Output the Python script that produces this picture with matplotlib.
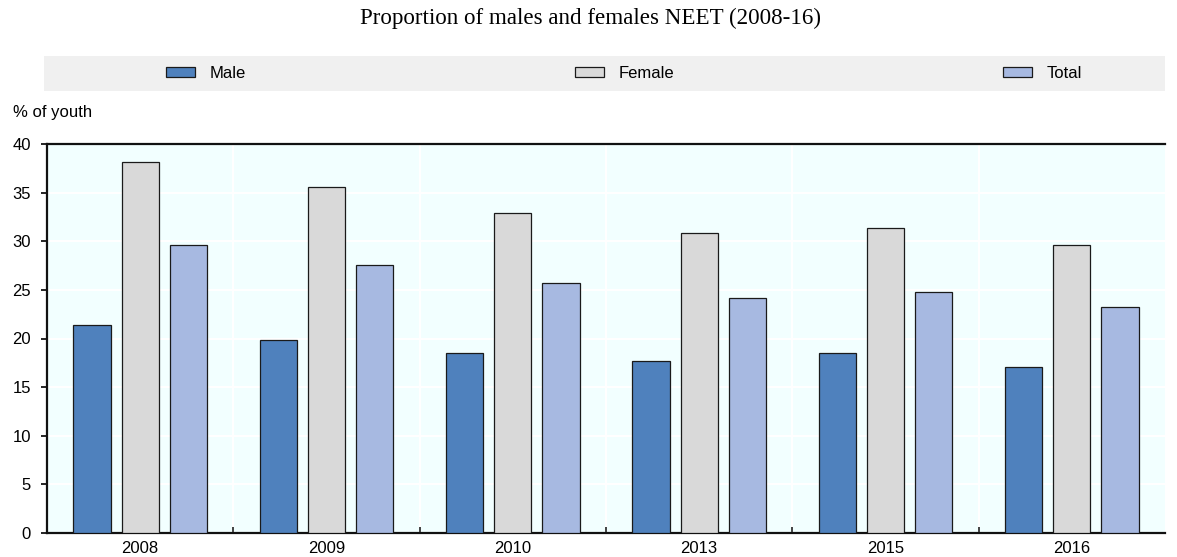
import matplotlib
matplotlib.use("Agg")
import matplotlib.pyplot as plt
from matplotlib.patches import Rectangle
from matplotlib.ticker import MultipleLocator, FixedLocator
import numpy as np

years = ["2008", "2009", "2010", "2013", "2015", "2016"]
male = [21.4, 19.8, 18.5, 17.7, 18.5, 17.1]
female = [38.1, 35.6, 32.9, 30.8, 31.4, 29.6]
total = [29.6, 27.6, 25.7, 24.2, 24.8, 23.2]
series_names = ["Male", "Female", "Total"]
colors = ["#4F81BD", "#D9D9D9", "#A7B9E1"]

FONT = ["Liberation Sans", "DejaVu Sans"]
plt.rcParams["font.family"] = FONT
FS = 12

W, H = 1177, 557
fig = plt.figure(figsize=(W / 100, H / 100), dpi=100)
ax = fig.add_axes([47 / W, 1 - 533 / H, (1165 - 47) / W, (533 - 144) / H])
ax.set_facecolor("#F2FFFF")

x = np.arange(len(years))
bw = 0.2
off = 0.258
handles = []
for i, (vals, name, c) in enumerate(zip([male, female, total], series_names, colors)):
    b = ax.bar(x + (i - 1) * off, vals, width=bw, color=c, edgecolor="#1a1a1a",
               linewidth=0.9, label=name, zorder=3)
    handles.append(b)

ax.set_xlim(-0.5, len(years) - 0.5)
ax.set_ylim(0, 40)
ax.yaxis.set_major_locator(MultipleLocator(5))
ax.set_xticks(x)
ax.set_xticklabels(years)
ax.xaxis.set_minor_locator(FixedLocator(np.arange(0.5, len(years) - 0.5, 1)))
ax.tick_params(axis="x", which="major", length=0, pad=6, labelsize=FS)
ax.tick_params(axis="x", which="minor", length=4.5, direction="in", width=1.2, color="#222222")
ax.tick_params(axis="y", which="major", length=4.5, direction="out", width=1.2, pad=7, labelsize=FS)
ax.grid(axis="y", color="white", linewidth=1.5, zorder=0)
ax.grid(axis="x", which="minor", color="white", linewidth=1.5, zorder=0)
ax.set_axisbelow(True)
for s in ["top", "left", "bottom"]:
    ax.spines[s].set_linewidth(1.6)
    ax.spines[s].set_color("#111111")
ax.spines["right"].set_visible(False)

# legend band
fig.patches.append(Rectangle((44 / W, 1 - 91 / H), (1165 - 44) / W, 35 / H,
                             transform=fig.transFigure, facecolor="#F0F0F0",
                             edgecolor="none", zorder=0))
leg = fig.legend(handles=handles, labels=series_names, ncol=3, mode="expand",
                 loc="center left",
                 bbox_to_anchor=(166 / W, 1 - 91 / H, (1082 - 166) / W, 35 / H),
                 frameon=False, fontsize=FS, handlelength=1.75, handleheight=0.6,
                 handletextpad=0.85, borderpad=0, borderaxespad=0)

fig.text(13 / W, 1 - 113 / H, "% of youth", fontsize=FS, va="center", ha="left")
fig.text(590 / W, 1 - 18 / H, "Proportion of males and females NEET (2008-16)",
         fontsize=16.6, va="center", ha="center",
         family=["Liberation Serif", "DejaVu Serif"])

fig.savefig("out.png", dpi=100)
